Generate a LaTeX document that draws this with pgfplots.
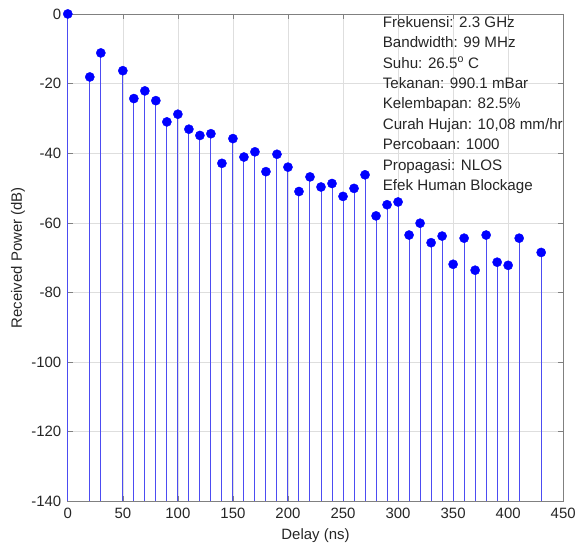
\documentclass[border=0pt]{standalone}
\usepackage{fontspec}
\setmainfont{Liberation Sans}
\usepackage{pgfplots}
\pgfplotsset{compat=1.18}
\usepackage{pgfplotstable}

\definecolor{stemblue}{rgb}{0.3,0.3,0.95}
\definecolor{mkblue}{rgb}{0,0,1}
\definecolor{gridgray}{gray}{0.87}
\definecolor{axgray}{gray}{0.5}
\definecolor{txtgray}{gray}{0.15}

% delay (ns), received power (dB)
\pgfplotstableread{
x y
0 0
20 -18.1
30 -11.2
50 -16.3
60 -24.3
70 -22.1
80 -24.9
90 -31.0
100 -28.8
110 -33.1
120 -34.9
130 -34.4
140 -42.9
150 -35.8
160 -41.1
170 -39.6
180 -45.3
190 -40.3
200 -44.0
210 -51.0
220 -46.8
230 -49.7
240 -48.7
250 -52.4
260 -50.1
270 -46.2
280 -58.0
290 -54.8
300 -54.0
310 -63.5
320 -60.1
330 -65.7
340 -63.8
350 -71.9
360 -64.4
370 -73.6
380 -63.5
390 -71.3
400 -72.2
410 -64.4
430 -68.5
}\pdp

\begin{document}
\begin{tikzpicture}
\begin{axis}[
  width=497pt, height=489pt, scale only axis,
  xmin=0, xmax=450, ymin=-140, ymax=0,
  xtick distance=50, ytick distance=20,
  grid=major, grid style={gridgray, line width=0.6pt},
  axis line style={axgray, line width=0.8pt},
  tick align=inside, major tick length=5pt,
  tick style={axgray, line width=0.6pt},
  /pgf/number format/assume math mode=true,
  ticklabel style={font=\fontsize{15}{18}\selectfont, text=txtgray},
  xticklabel style={yshift=-3pt},
  yticklabel style={xshift=-3pt},
  label style={font=\fontsize{15}{18}\selectfont, text=txtgray},
  xlabel={Delay (ns)}, ylabel={Received Power (dB)},
  xlabel style={at={(axis description cs:0.5,-0.0695)}, anchor=center},
  ylabel style={at={(axis description cs:-0.1006,0.5)}, anchor=center},
  clip=false,
]
\addplot[stemblue, only marks, mark=*, mark size=4.6pt,
  mark options={draw=mkblue, fill=mkblue},
  error bars/.cd, y dir=minus, y explicit, error mark=none,
  error bar style={color=stemblue, line width=1pt}]
  table[x=x, y=y, y error expr=\thisrow{y}+140] {\pdp};

\node[anchor=north west, inner sep=0pt, align=left, text=txtgray,
  font=\fontsize{15.2}{20.5}\selectfont] at (axis cs:286,-0.6)
  {Frekuensi: 2.3 GHz\\
   Bandwidth: 99 MHz\\
   Suhu: 26.5\textsuperscript{o} C\\
   Tekanan: 990.1 mBar\\
   Kelembapan: 82.5\%\\
   Curah Hujan: 10,08 mm/hr\\
   Percobaan: 1000\\
   Propagasi: NLOS\\
   Efek Human Blockage};
\end{axis}
\path ([shift={(-68pt,-43pt)}]current axis.south west) rectangle ([shift={(14pt,14pt)}]current axis.north east);
\end{tikzpicture}
\end{document}
